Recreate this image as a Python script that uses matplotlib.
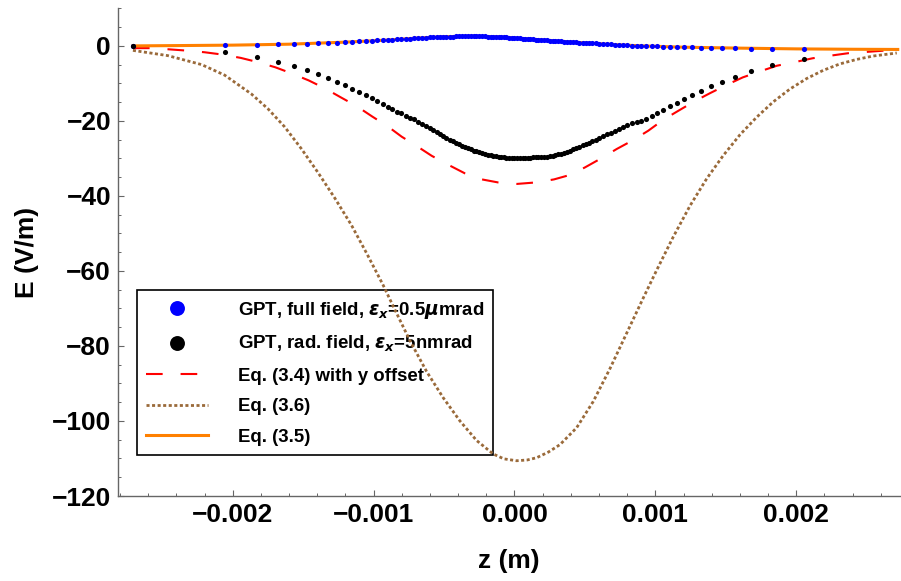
import numpy as np
import matplotlib
matplotlib.use("Agg")
import matplotlib.pyplot as plt
from matplotlib.ticker import MultipleLocator, FuncFormatter
from matplotlib.lines import Line2D

plt.rcParams['font.family'] = ['Liberation Sans', 'DejaVu Sans']
plt.rcParams['font.weight'] = 'bold'
plt.rcParams['mathtext.fontset'] = 'custom'
plt.rcParams['mathtext.rm'] = 'Liberation Sans:bold'
plt.rcParams['mathtext.bf'] = 'Liberation Sans:bold'
plt.rcParams['mathtext.it'] = 'DejaVu Sans:bold:italic'

# ---------------- data (z in mm, E in V/m) ----------------
z_dots_mm = [-2.708, -2.055, -1.828, -1.678, -1.566, -1.473, -1.393, -1.322, -1.260, -1.203,
             -1.151, -1.101, -1.055, -1.013, -0.974, -0.933, -0.897, -0.866, -0.834, -0.802,
             -0.771, -0.742, -0.713, -0.684, -0.656, -0.630, -0.603, -0.578, -0.553, -0.529,
             -0.505, -0.483, -0.460, -0.438, -0.416, -0.395, -0.373, -0.352, -0.331, -0.311,
             -0.290, -0.270, -0.250, -0.230, -0.210, -0.190, -0.170, -0.151, -0.132, -0.113,
             -0.094, -0.075, -0.057, -0.038, -0.019, 0.000, 0.019, 0.038, 0.057, 0.075,
             0.094, 0.113, 0.132, 0.151, 0.170, 0.190, 0.210, 0.230, 0.250, 0.270,
             0.290, 0.311, 0.331, 0.352, 0.373, 0.395, 0.416, 0.438, 0.460, 0.483,
             0.505, 0.529, 0.553, 0.578, 0.603, 0.630, 0.656, 0.684, 0.713, 0.742,
             0.771, 0.802, 0.834, 0.866, 0.897, 0.933, 0.974, 1.013, 1.055, 1.101,
             1.151, 1.203, 1.260, 1.322, 1.393, 1.473, 1.566, 1.678, 1.828, 2.055]

E_full_field = [0.0, 0.15, 0.3, 0.4, 0.5, 0.6, 0.7, 0.8, 0.9, 1.0,
                1.1, 1.2, 1.3, 1.35, 1.45, 1.5, 1.6, 1.65, 1.75, 1.8,
                1.9, 1.95, 2.05, 2.1, 2.15, 2.2, 2.25, 2.3, 2.35, 2.4,
                2.45, 2.45, 2.5, 2.5, 2.55, 2.55, 2.55, 2.6, 2.6, 2.6,
                2.6, 2.6, 2.55, 2.55, 2.55, 2.5, 2.5, 2.45, 2.4, 2.4,
                2.35, 2.3, 2.25, 2.2, 2.15, 2.1, 2.05, 2.0, 1.95, 1.9,
                1.85, 1.8, 1.75, 1.7, 1.65, 1.6, 1.55, 1.45, 1.4, 1.35,
                1.3, 1.25, 1.2, 1.15, 1.1, 1.05, 1.0, 0.95, 0.9, 0.85,
                0.8, 0.75, 0.7, 0.65, 0.6, 0.5, 0.45, 0.4, 0.35, 0.3,
                0.2, 0.15, 0.1, 0.05, 0.0, -0.05, -0.1, -0.15, -0.2, -0.25,
                -0.3, -0.35, -0.4, -0.45, -0.5, -0.55, -0.6, -0.7, -0.75, -0.85]

E_rad_field = [0.0, -1.7, -2.9, -4.2, -5.3, -6.4, -7.5, -8.5, -9.5, -10.5,
               -11.5, -12.3, -13.2, -14.0, -14.8, -15.6, -16.4, -16.9, -17.5, -18.0,
               -18.6, -19.1, -19.6, -20.2, -20.8, -21.3, -21.85, -22.4, -23.0, -23.5,
               -24.1, -24.55, -25.0, -25.4, -25.8, -26.2, -26.6, -27.0, -27.3, -27.6,
               -27.9, -28.15, -28.4, -28.6, -28.8, -29.0, -29.15, -29.3, -29.45, -29.55,
               -29.65, -29.72, -29.78, -29.83, -29.87, -29.9, -29.92, -29.92, -29.9, -29.88,
               -29.85, -29.8, -29.75, -29.7, -29.65, -29.6, -29.55, -29.5, -29.4, -29.25,
               -29.1, -28.95, -28.8, -28.55, -28.25, -27.95, -27.6, -27.25, -26.9, -26.55,
               -26.2, -25.8, -25.4, -25.0, -24.5, -24.0, -23.6, -23.1, -22.6, -22.1,
               -21.6, -21.1, -20.6, -20.3, -19.9, -19.4, -18.7, -17.9, -17.0, -16.1,
               -15.1, -14.1, -13.1, -12.0, -10.8, -9.5, -8.2, -6.8, -5.1, -3.4]

red_z_mm = [-2.708, -2.589, -2.459, -2.329, -2.199, -2.076, -1.943, -1.825, -1.698, -1.584,
            -1.461, -1.347, -1.229, -1.123, -1.011, -0.898, -0.801, -0.694, -0.588, -0.470,
            -0.351, -0.245, -0.117, 0.018, 0.153, 0.280, 0.394, 0.500, 0.619, 0.725,
            0.843, 0.950, 1.056, 1.163, 1.281, 1.388, 1.506, 1.620, 1.742, 1.861,
            1.993, 2.116, 2.244, 2.369, 2.500, 2.630, 2.720]
red_E = [-0.6, -0.6, -0.9, -1.25, -1.7, -2.3, -3.2, -4.3, -5.7, -7.3,
         -9.2, -11.3, -13.8, -16.0, -18.8, -21.5, -24.2, -26.7, -29.3, -31.7,
         -34.0, -35.5, -36.4, -36.8, -36.4, -35.6, -34.4, -32.4, -29.9, -27.5,
         -25.1, -22.6, -19.7, -17.3, -14.7, -12.6, -10.4, -8.4, -6.8, -5.3,
         -4.3, -3.3, -2.6, -1.95, -1.6, -1.25, -1.1]

brown_z_mm = [-2.708, -2.460, -2.220, -2.057, -1.868, -1.749, -1.631, -1.513, -1.394, -1.275,
              -1.157, -1.045, -0.932, -0.861, -0.742, -0.624, -0.506, -0.387, -0.269, -0.151,
              -0.075, 0.015, 0.090, 0.157, 0.240, 0.323, 0.441, 0.559, 0.678, 0.796,
              0.914, 1.009, 1.127, 1.246, 1.364, 1.482, 1.600, 1.719, 1.837, 1.955,
              2.074, 2.192, 2.310, 2.429, 2.546, 2.713]
brown_E = [-1.2, -2.6, -5.0, -7.8, -12.8, -16.8, -21.6, -27.4, -33.8, -40.6,
           -47.8, -55.6, -63.8, -69.4, -78.6, -86.8, -93.8, -100.0, -105.2, -108.8,
           -110.1, -110.6, -110.4, -109.8, -108.3, -106.3, -101.8, -94.8, -86.0, -76.6,
           -67.2, -59.8, -50.9, -42.6, -35.4, -29.2, -23.7, -19.0, -14.9, -11.5,
           -8.7, -6.5, -4.8, -3.6, -2.7, -1.9]

orange_z_mm = [-2.708, -2.4, -2.0, -1.6, -1.2, -0.9, -0.7, -0.5, -0.3, -0.1,
               0.1, 0.3, 0.5, 0.7, 0.9, 1.2, 1.6, 2.0, 2.4, 2.72]
orange_E = [0.0, 0.08, 0.2, 0.45, 1.0, 1.55, 2.05, 2.45, 2.6, 2.4,
            1.85, 1.3, 0.8, 0.35, 0.0, -0.35, -0.6, -0.8, -0.9, -0.95]

labels = [r'GPT, full field, $\epsilon_x$=0.5$\mu$mrad',
          r'GPT, rad. field, $\epsilon_x$=5nmrad',
          'Eq. (3.4) with y offset',
          'Eq. (3.6)',
          'Eq. (3.5)']

x_ticks = [-0.002, -0.001, 0.0, 0.001, 0.002]
y_ticks = [-120, -100, -80, -60, -40, -20, 0]

MM = 1e-3
z_dots = np.array(z_dots_mm) * MM

# ---------------- figure ----------------
fig = plt.figure(figsize=(9.01, 5.81), dpi=100)
ax = fig.add_axes([118 / 901, 1 - 496 / 581, 782 / 901, 488 / 581])

gray = '#666666'
brown = '#9A6A3A'
ax.plot(np.array(brown_z_mm) * MM, brown_E, color=brown, lw=2.0,
        dashes=(1.1, 0.9), zorder=3)
ax.plot(np.array(red_z_mm) * MM, red_E, color='#FF0000', lw=1.5,
        dashes=(8.0, 8.6), zorder=3)
ax.plot(np.array(orange_z_mm) * MM, orange_E, color='#FF8000', lw=2.2, zorder=3)
ax.plot(z_dots, E_full_field, 'o', color='#0000FF', ms=3.7, mew=0, zorder=4)
ax.plot(z_dots, E_rad_field, 'o', color='black', ms=3.7, mew=0, zorder=5)

ax.set_xlim(-2.814 * MM, 2.736 * MM)
ax.set_ylim(-120, 10.1)

ax.xaxis.set_minor_locator(MultipleLocator(0.0002))
ax.yaxis.set_minor_locator(MultipleLocator(5))
ax.set_xticks(x_ticks)
ax.set_yticks(y_ticks)


def fmt_x(v, pos):
    s = f"{v:.3f}"
    if s == "-0.000":
        s = "0.000"
    return s.replace('-', '\u2212')


def fmt_y(v, pos):
    return f"{v:.0f}".replace('-', '\u2212')


ax.xaxis.set_major_formatter(FuncFormatter(fmt_x))
ax.yaxis.set_major_formatter(FuncFormatter(fmt_y))

for s in ['top', 'right']:
    ax.spines[s].set_visible(False)
for s in ['left', 'bottom']:
    ax.spines[s].set_color(gray)
    ax.spines[s].set_linewidth(1.0)

ax.tick_params(which='major', direction='in', length=4.5, width=0.8, color=gray,
               labelsize=19, pad=5)
ax.tick_params(which='minor', direction='in', length=2.3, width=0.7, color=gray)
for lab in ax.get_xticklabels() + ax.get_yticklabels():
    lab.set_fontweight('bold')

ax.set_xlabel('z (m)', fontsize=19, fontweight='bold', labelpad=16)
ax.set_ylabel('E (V/m)', fontsize=19, fontweight='bold', labelpad=9)

handles = [
    Line2D([], [], ls='none', marker='o', color='#0000FF', ms=3.7, mew=0),
    Line2D([], [], ls='none', marker='o', color='black', ms=3.7, mew=0),
    Line2D([], [], color='#FF0000', lw=1.5, dashes=(8.0, 8.6)),
    Line2D([], [], color=brown, lw=2.0, dashes=(1.1, 0.9)),
    Line2D([], [], color='#FF8000', lw=2.2),
]
leg = ax.legend(handles, labels, loc='lower left', bbox_to_anchor=(0.0243, 0.084),
                borderaxespad=0, fontsize=13.4, markerscale=2.9, handlelength=3.3,
                handletextpad=1.6, labelspacing=0.72, borderpad=0.5,
                fancybox=False, framealpha=1, edgecolor='black')
leg.get_frame().set_linewidth(1.2)
leg.set_zorder(2)
for t in leg.get_texts():
    t.set_fontweight('bold')

fig.savefig('out.png', dpi=100)
